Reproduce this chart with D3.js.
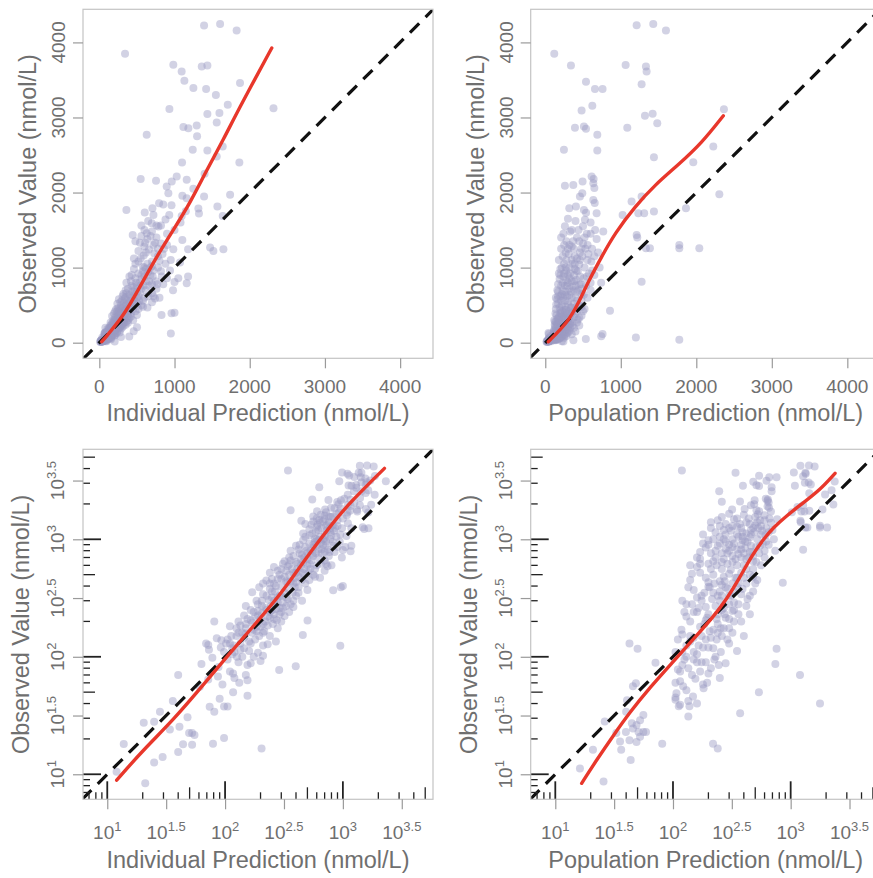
<!DOCTYPE html>
<html><head><meta charset="utf-8">
<script src="https://cdn.jsdelivr.net/npm/d3@7"></script>
<style>
body{margin:0;background:#fff;overflow:hidden}
text{font-family:"Liberation Sans",Arial,sans-serif;fill:#6f6f6f}
</style>
</head><body>
<svg id="c" width="873" height="878"></svg>
<script>
// ---------- axis text ----------
const linTicks = [0, 1000, 2000, 3000, 4000];
const logTicks = [1, 1.5, 2, 2.5, 3, 3.5];
const logTickExp = ["1", "1.5", "2", "2.5", "3", "3.5"];
const xTitles = ["Individual Prediction (nmol/L)", "Population Prediction (nmol/L)"];
const yTitle = "Observed Value (nmol/L)";

// ---------- observations vs individual prediction: [IPRED, OBS] (nmol/L) ----------
const indivHigh = [[342,3849],[1393,4226],[1606,4244],[1826,4160],[984,3702],[1095,3613],[1131,3490],[1251,3392],[1362,3680],[1437,3693],[1420,3378],[1871,3458],[932,3112],[1437,3045],[1597,3058],[1708,3169],[2316,3124],[1561,2934],[1118,2872],[1184,2858],[1295,2894],[630,2769],[1242,2569],[1437,2560],[1561,2480],[1641,2613],[1862,2400],[550,2182],[754,2156],[963,2147],[1029,2213],[1162,2169],[896,2080],[918,1991],[1104,1956],[1162,1924],[1393,1947],[1739,1969],[360,1769],[604,1733],[706,1791],[795,1858],[850,1840],[960,1830],[1317,1787],[1325,1720],[1570,1813],[1641,1689],[1095,1689],[697,1591],[786,1547],[630,1458],[444,1436],[1104,1369],[1180,1244],[984,1244],[1473,1267],[1517,1222],[1650,1244],[1180,880],[1162,791],[1000,810],[827,369],[960,391],[951,124],[1073,1067],[1000,400]];
const indivMid = [[480,1350],[560,1420],[640,1380],[700,1480],[760,1400],[820,1320],[600,1500],[540,1330],[900,1450],
[480,1050],[550,1120],[620,1200],[700,1080],[780,1150],[860,1250],[950,1100],[600,1280],[720,1300],[880,1050],[520,1220],
[320,650],[380,720],[440,680],[500,760],[560,850],[620,700],[680,900],[750,820],[820,950],[400,880],[460,980],[520,920],[600,1000],[700,780],[900,860],[360,800],[980,700],[650,940],[540,660],[780,1000],[430,760],[1050,860],[741,589],
[210,420],[250,460],[290,500],[330,440],[380,520],[420,480],[470,560],[520,450],[600,600],[260,580],[310,620],[350,610],[400,430],[560,500],[700,540],[240,520],[440,600],[640,470],[800,600],[330,540],[480,420],[224,447],
[150,270],[185,300],[220,260],[250,320],[280,290],[320,350],[360,280],[210,340],[240,380],[300,395],[400,330],[450,300],[170,355],[270,255],[340,310],[500,370],[195,390],[420,390],[265,360],[380,265],
[125,175],[150,190],[175,170],[200,210],[230,185],[260,230],[145,225],[190,245],[300,200],[215,165],[350,240],[165,205],[240,215],[280,175],[130,200],[205,235],[320,222],
[92,120],[115,105],[135,130],[160,112],[180,140],[125,150],[105,140],[210,125],[240,150],[150,158],[190,108],[270,135],[118,125],[170,160],[145,118],
[72,64],[95,58],[110,75],[88,82],[130,90],[150,70],[105,95],[78,98],[165,88],[120,66],[140,100],[200,92],[98,110],
[135,115],[160,135],[195,150],[230,128],[175,100],[155,85],[210,160],[255,190],[185,180],[300,240],[275,205],[225,250],[190,280],[260,300],[330,270],[290,330],[235,305],[375,350],[310,290],[420,350],[270,400],[340,430],[390,470],[300,460],[460,520],[350,500],[410,560],[520,620],[280,540],[360,660],[450,740],[560,720],[400,640],[500,680],[620,820],[480,860],[700,660],[580,560],[340,590],[760,720],[530,800],[660,760],[420,820],[830,880],[720,960],[580,950],[460,640],[370,560],[250,360],[205,300],[165,250],[180,220],[220,200],[140,160],[115,118],[102,130],[210,102],[245,270],[290,260],[380,300]];
const indivDense = [[520,1080],[590,1160],[660,1240],[730,1190],[800,1090],[460,1120],[680,1420],[740,1330],[610,1330],[840,1180],[560,1560],[650,1620],[720,1700],[880,1640],[780,1250],[900,1300],[1000,1500],[1080,1600],[820,1560],[640,1050],[580,1010],[700,1020],[760,1560],[930,1700],[1150,1750],[1250,2050],[1400,2250],[1100,2400],[1300,2750],[1550,3300],
[300,560],[350,700],[410,620],[470,700],[530,560],[590,760],[650,620],[710,880],[770,780],[380,420],[440,520],[500,600],[560,900],[620,980],[680,1000],[300,330],[340,380],[390,390],[450,450],[510,520],[580,480],[260,420],[320,480],[430,900],[490,800],[550,760],[600,880],[660,820],[720,620],[850,780],[940,960],[400,520],[360,440],[280,460],[240,420],
[110,130],[130,160],[150,175],[170,195],[190,225],[210,190],[230,220],[250,250],[270,280],[290,230],[310,260],[330,320],[120,110],[145,145],[165,130],[185,165],[205,270],[225,330],[200,180],[240,240],[260,210],[175,240],[155,210],[135,185],[280,320]];
const indivLow = [[12,10.5],[13.8,18.1],[21,8.4],[20.4,27.5],[25,28],[25,12.6],[29.5,14],[28,34],[34,24],[40,70],[36,42],[41,25.4],[44,18],[40,15.5],[48,30.5],[49.5,22.4],[52.5,22.4],[55,21.6],[52.5,17.8],[61,55.7],[63,87],[69,130],[73,115],[74,37.6],[79,18.2],[81,200],[85,144],[87,68],[90,44],[98,20.4],[98,37.7],[105,37.7],[110,182],[117,72],[132,60],[155,46.5],[204,16.6],[288,77],[398,83],[457,153],[501,204],[81,34],[72,126],[117,50],[155,63],[126,100],[93,138],[113,150]];

// ---------- observations vs population prediction: [PRED, OBS] (nmol/L) ----------
const popHigh = [[119,3849],[1210,4227],[1430,4244],[1598,4160],[340,3693],[1064,3698],[1333,3680],[1342,3613],[1276,3444],[539,3476],[658,3378],[759,3378],[481,3093],[623,3156],[2366,3111],[1320,3022],[1422,3049],[1483,2924],[393,2862],[512,2880],[539,2849],[1086,2862],[689,2769],[247,2569],[689,2560],[1439,2471],[2225,2613],[1960,2404],[260,2089],[371,2102],[494,2147],[614,2213],[640,2180],[636,2124],[650,2060],[459,1947],[490,1990],[636,1902],[655,1860],[318,1791],[406,1813],[512,1769],[540,1730],[525,1636],[680,1724],[1143,1880],[1276,1947],[1232,1724],[1310,1724],[1024,1702],[1439,1747],[1863,1791],[2305,1978],[768,1480],[1210,1436],[1218,1400],[1333,1258],[1386,1258],[1775,1302],[1775,1258],[2040,1258],[1276,813],[857,427],[1200,70],[1775,40]];
const popMid = [[105,45],[130,52],[160,40],[115,62],[145,70],[180,58],[210,80],[120,85],[250,66],[150,95],[190,90],[110,78],[280,88],[230,100],[135,42],
[105,110],[130,125],[160,105],[190,140],[220,118],[260,150],[300,130],[120,155],[150,145],[350,112],[240,160],[180,120],[140,135],[400,150],[110,140],
[118,170],[140,200],[170,180],[200,230],[240,190],[280,215],[320,245],[380,200],[160,240],[130,220],[220,170],[260,250],[450,230],[190,205],[300,175],
[130,280],[160,320],[190,265],[220,350],[250,300],[290,380],[330,290],[380,340],[150,370],[200,395],[420,270],[480,360],[270,260],[240,330],[175,300],[350,395],[310,330],
[140,450],[170,520],[200,430],[235,600],[270,480],[310,550],[360,420],[400,600],[450,500],[520,450],[160,580],[290,620],[220,500],[340,470],[260,410],[480,560],[190,470],[380,520],
[160,700],[190,850],[220,650],[260,760],[300,900],[340,680],[380,820],[430,950],[480,720],[550,880],[200,980],[250,920],[320,1000],[420,680],[600,800],[170,780],[280,830],[360,750],[510,640],[460,880],
[180,1100],[210,1250],[250,1050],[280,1350],[310,1180],[350,1280],[390,1050],[420,1400],[460,1200],[500,1320],[560,1100],[620,1250],[240,1450],[330,1480],[440,1500],[680,1380],[390,1150],[270,1200],
[125,95],[150,110],[175,150],[205,165],[235,140],[270,175],[200,120],[165,260],[195,215],[230,270],[260,330],[300,280],[215,310],[185,350],[280,390],[330,360],[250,440],[300,510],[210,560],[350,600],[400,470],[270,680],[320,720],[230,800],[380,900],[450,780],[280,960],[350,1100],[220,1000],[410,960],[300,1250],[370,1350],[250,1300],[460,1100],[520,1000],[200,900],[170,620],[145,510],[135,390],[120,300],[240,230],[330,200],[290,140],[195,60],[170,75],[255,110],[320,160],[430,310],[500,420],[560,600],[600,700],[480,650],[420,560],[360,280],[150,240],[260,560],[320,860],[400,760],[560,1300],[600,1450]];
const popDense = [[120,110],[140,150],[165,125],[185,190],[210,145],[235,210],[255,175],[275,230],[300,210],[330,250],[360,230],[125,240],[145,280],[175,330],[205,390],[225,420],[250,360],[275,440],[300,330],[320,420],[350,470],[390,380],[420,420],[450,330],[480,480],
[140,600],[170,680],[200,620],[230,700],[260,640],[290,760],[320,640],[350,820],[380,700],[410,840],[440,700],[470,780],[510,860],[540,760],[580,920],[620,960],[180,920],[210,760],[240,880],[270,1000],[300,800],[330,920],[360,1050],[390,980],[420,1120],[450,1040],[490,1150],[530,1250],[570,1180],[610,1080],[650,1150],
[210,1400],[260,1550],[300,1650],[350,1500],[400,1620],[450,1350],[500,1550],[550,1450],[600,1600],[660,1500],[380,1250],[320,1300],[280,1100],[230,1150],[480,1250],[520,1400],[700,1200],[720,1000],[650,900],[740,800],
[105,60],[115,75],[135,80],[155,65],[175,90],[200,72],[225,95],[245,85],[130,100],[160,90]];
const popLow = [[42.7,130],[50,117],[71,89],[48.4,59.6],[45.7,56],[40.7,42.7],[56,32],[52.5,28.8],[44.7,27.2],[49,26.3],[56,22.9],[45.7,24.5],[39.8,22.9],[51,22.9],[42.7,19.5],[49,18.8],[52.5,20.9],[59,22.9],[33,22.4],[26.3,28.2],[20.9,16.2],[16.2,11.2],[25.7,8.7],[36.3,16.2],[43.7,13.2],[81,18.2],[40,34],[35.5,19],[135,31],[112,38],[219,18.2],[240,16.6],[372,33],[537,50],[741,87],[759,117],[138,38],[148,46],[115,39],[105,43],[107,49],[122,56],[182,54]];

// ---------- smooth (red) lines ----------
const loessIndivLin = [[32,13],[319,347],[541,747],[763,1147],[984,1503],[1206,1859],[1428,2300],[1649,2703],[1871,3147],[2293,3925]];
const loessPopLin = [[40,13],[305,280],[437,525],[570,813],[747,1147],[923,1459],[1188,1813],[1453,2103],[1762,2369],[2072,2659],[2358,3023]];
const loessIndivLog10 = [[1.08,0.95],[1.305,1.207],[1.56,1.46],[1.84,1.79],[2.04,2.03],[2.24,2.26],[2.435,2.49],[2.576,2.68],[2.746,2.92],[2.915,3.14],[3.057,3.31],[3.353,3.604]];
const loessPopLog10 = [[1.224,0.923],[1.351,1.122],[1.493,1.33],[1.635,1.53],[1.805,1.74],[2.003,1.96],[2.173,2.15],[2.343,2.34],[2.456,2.49],[2.56,2.66],[2.669,2.86],[2.768,3.0],[2.853,3.1],[2.966,3.2],[3.079,3.29],[3.249,3.42],[3.377,3.562]];

const indiv = indivHigh.concat(indivMid, indivDense, indivLow);
const popul = popHigh.concat(popMid, popDense, popLow);

// ---------- layout ----------
const panels = [
  {x0:83,    y0:9.3,   w:350, h:349, type:"lin", xd:[-217,4437], yd:[-208,4441], data:indiv, loess:loessIndivLin, title:xTitles[0]},
  {x0:530.7, y0:9.3,   w:350, h:349, type:"lin", xd:[-193,4442], yd:[-208,4441], data:popul, loess:loessPopLin, title:xTitles[1]},
  {x0:83,    y0:449.3, w:350, h:350, type:"log", xd:[0.794,3.765], yd:[0.787,3.766], data:indiv, loess:loessIndivLog10.map(d=>[10**d[0],10**d[1]]), title:xTitles[0]},
  {x0:530.7, y0:449.3, w:350, h:350, type:"log", xd:[0.791,3.765], yd:[0.787,3.766], data:popul, loess:loessPopLog10.map(d=>[10**d[0],10**d[1]]), title:xTitles[1]}
];

const svg = d3.select("#c");
const defs = svg.append("defs");
const gray = "#9a9a9a";

panels.forEach((p, i) => {
  const isLog = p.type === "log";
  const x = (isLog ? d3.scaleLog().domain(p.xd.map(v => 10 ** v)) : d3.scaleLinear().domain(p.xd)).range([p.x0, p.x0 + p.w]);
  const y = (isLog ? d3.scaleLog().domain(p.yd.map(v => 10 ** v)) : d3.scaleLinear().domain(p.yd)).range([p.y0 + p.h, p.y0]);

  defs.append("clipPath").attr("id", "clip" + i).append("rect")
    .attr("x", p.x0).attr("y", p.y0).attr("width", p.w).attr("height", p.h);
  const g = svg.append("g").attr("clip-path", `url(#clip${i})`);

  g.selectAll("circle").data(p.data).join("circle")
    .attr("cx", d => x(d[0])).attr("cy", d => y(d[1])).attr("r", 4)
    .attr("fill", "#9c9cc4").attr("fill-opacity", 0.45);

  const lo = Math.min(x.domain()[0], y.domain()[0]);
  const hi = Math.max(x.domain()[1], y.domain()[1]);
  g.append("line").attr("x1", x(lo)).attr("y1", y(lo)).attr("x2", x(hi)).attr("y2", y(hi))
    .attr("stroke", "#111").attr("stroke-width", 3.2).attr("stroke-dasharray", "13,9");

  g.append("path").datum(p.loess)
    .attr("d", d3.line().x(d => x(d[0])).y(d => y(d[1])).curve(d3.curveBasis))
    .attr("fill", "none").attr("stroke", "#e8372b").attr("stroke-width", 3.4)
    .attr("stroke-linecap", "round");

  // inner log ticks
  if (isLog) {
    const kOf = v => Math.round(v / 10 ** Math.floor(Math.log10(v) + 1e-9));
    const len = v => { const k = kOf(v); return k === 1 ? 18 : (k === 5 ? 12 : 7); };
    svg.append("g").selectAll("line").data(x.ticks()).join("line")
      .attr("x1", d => x(d)).attr("x2", d => x(d))
      .attr("y1", p.y0 + p.h).attr("y2", d => p.y0 + p.h - len(d))
      .attr("stroke", "#222").attr("stroke-width", d => kOf(d) === 1 ? 1.8 : 1.3);
    svg.append("g").selectAll("line").data(y.ticks()).join("line")
      .attr("y1", d => y(d)).attr("y2", d => y(d))
      .attr("x1", p.x0).attr("x2", d => p.x0 + len(d))
      .attr("stroke", "#222").attr("stroke-width", d => kOf(d) === 1 ? 1.8 : 1.3);
  }

  // box
  svg.append("rect").attr("x", p.x0).attr("y", p.y0).attr("width", p.w).attr("height", p.h)
    .attr("fill", "none").attr("stroke", "#c4c4c4").attr("stroke-width", 1.2);

  // axes (outside ticks)
  const tv = isLog ? logTicks.map(v => 10 ** v) : linTicks;
  const ax = svg.append("g").attr("transform", `translate(0,${p.y0 + p.h})`)
    .call(d3.axisBottom(x).tickValues(tv).tickSize(10).tickFormat(""));
  const ay = svg.append("g").attr("transform", `translate(${p.x0},0)`)
    .call(d3.axisLeft(y).tickValues(tv).tickSize(10).tickFormat(""));
  [ax, ay].forEach(a => { a.select(".domain").remove(); a.selectAll("line").attr("stroke", gray).attr("stroke-width", 1.2); });

  if (!isLog) {
    svg.append("g").selectAll("text").data(linTicks).join("text")
      .attr("x", d => x(d)).attr("y", p.y0 + p.h + 35).attr("text-anchor", "middle")
      .attr("font-size", 19).text(d => d);
    svg.append("g").selectAll("text").data(linTicks).join("text")
      .attr("transform", d => `translate(${p.x0 - 18},${y(d)}) rotate(-90)`)
      .attr("text-anchor", "middle").attr("font-size", 19).text(d => d);
  } else {
    const xl = svg.append("g").selectAll("text").data(logTicks).join("text")
      .attr("x", d => x(10 ** d)).attr("y", p.y0 + p.h + 40).attr("text-anchor", "middle")
      .attr("font-size", 19);
    xl.append("tspan").text("10");
    xl.append("tspan").attr("dy", -8).attr("font-size", 13).text((d, j) => logTickExp[j]);
    const yl = svg.append("g").selectAll("text").data(logTicks).join("text")
      .attr("transform", d => `translate(${p.x0 - 19},${y(10 ** d)}) rotate(-90)`)
      .attr("text-anchor", "middle").attr("font-size", 19);
    yl.append("tspan").text("10");
    yl.append("tspan").attr("dy", -8).attr("font-size", 13).text((d, j) => logTickExp[j]);
  }

  // titles
  svg.append("text").attr("x", p.x0 + 175).attr("y", p.y0 + p.h + (isLog ? 68.7 : 63))
    .attr("text-anchor", "middle").attr("font-size", 23.5).text(p.title);
  svg.append("text")
    .attr("transform", `translate(${p.x0 - (isLog ? 54 : 47)},${p.y0 + p.h / 2}) rotate(-90)`)
    .attr("text-anchor", "middle").attr("font-size", 23.5).text(yTitle);
});
</script>
</body></html>
